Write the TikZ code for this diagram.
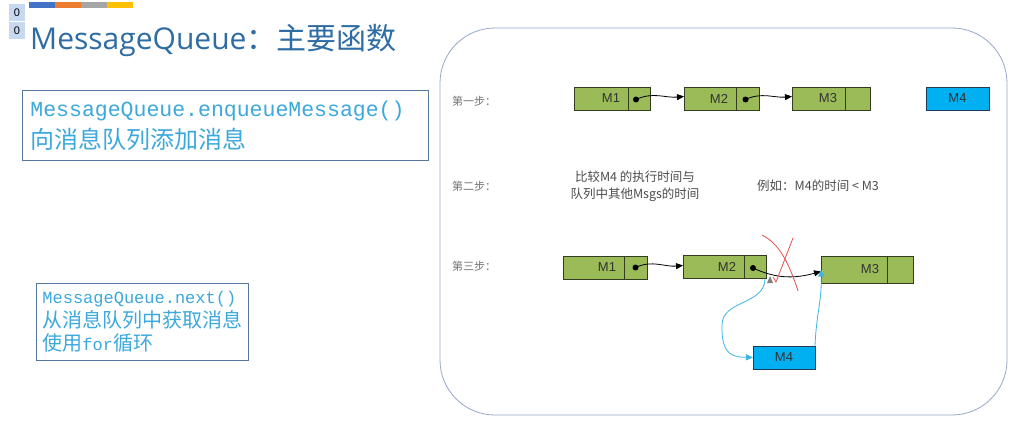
\documentclass[tikz,border=0pt]{standalone}
\usepackage{fontspec}
\setmainfont{Liberation Sans}
\setmonofont{Liberation Mono}
\newfontfamily\cjk{Noto Sans CJK SC}
\newfontfamily\titlelatin{Open Sans}
\usepackage{tikz}
\usetikzlibrary{arrows.meta,positioning}
\definecolor{titleblue}{RGB}{46,108,164}
\definecolor{textcyan}{RGB}{60,168,220}
\definecolor{boxline}{RGB}{84,120,160}
\definecolor{framegray}{RGB}{150,168,200}
\definecolor{msggreen}{RGB}{155,187,89}
\definecolor{msgline}{RGB}{50,60,30}
\definecolor{msgblue}{RGB}{0,176,240}
\definecolor{bluedark}{RGB}{30,60,90}
\definecolor{linkblue}{RGB}{60,180,230}
\definecolor{crossred}{RGB}{230,80,80}
\definecolor{zeroblue}{RGB}{198,217,240}
\definecolor{barblue}{RGB}{68,114,196}
\definecolor{barorange}{RGB}{237,125,49}
\definecolor{bargray}{RGB}{165,165,165}
\definecolor{bargold}{RGB}{255,192,0}

\begin{document}
\begin{tikzpicture}[
  x=1pt, y=-1pt,
  msgbox/.style={draw=msgline, fill=msggreen, line width=0.9pt, outer sep=0pt,
    minimum height=23pt, inner sep=0pt, font=\fontsize{13}{14}\selectfont, text=black!80},
  msg/.style={msgbox, inner xsep=8pt, text width=#1, align=right},
  ptr/.style={msgbox, minimum width=#1},
  newmsg/.style={msgbox, fill=msgblue, draw=bluedark, minimum width=#1},
  dot/.style={circle, fill=black, inner sep=0pt, minimum size=6pt},
  link/.style={-{Triangle[length=7pt,width=6pt]}, line width=0.8pt},
  newlink/.style={link, draw=linkblue},
  steplabel/.style={font=\cjk\fontsize{11}{12}\selectfont, text=black!55, anchor=west, inner sep=0pt},
  note/.style={font=\cjk\fontsize{12.5}{17}\selectfont, text=black!70, inner sep=0pt},
  infobox/.style={draw=boxline, line width=0.8pt, anchor=north west, align=left, text=textcyan},
  zerobox/.style={fill=zeroblue, minimum width=16pt, minimum height=17pt, inner sep=0pt,
    font=\fontsize{11}{12}\selectfont}
]
\useasboundingbox (0,0) rectangle (1009,428);
\fill[white] (0,0) rectangle (1009,428);

\node[zerobox] (zero1) at (17,12.5) {0};
\node[zerobox] (zero2) at (17,30.5) {0};
\foreach \c [count=\i from 0] in {barblue,barorange,bargray,bargold}
  \fill[\c] ({29+26*\i},2) rectangle ({55+26*\i},8);
\node[anchor=base west, inner sep=0pt, text=titleblue, font=\fontsize{30}{36}\selectfont] (title) at (30,50)
  {{\titlelatin MessageQueue}{\cjk ：主要函数}};

\node[infobox, inner xsep=8pt, text width=390pt, minimum height=70pt, font=\fontsize{22}{32}\selectfont] (enqueue) at (22,90)
  {{\ttfamily\fontsize{21.5}{32}\selectfont MessageQueue.enqueueMessage()}\\
   {\cjk\fontsize{24}{32}\selectfont 向消息队列添加消息}};
\node[infobox, inner xsep=6pt, text width=200pt, minimum height=77pt, font=\fontsize{17}{23.5}\selectfont] (next) at (36,283)
  {{\ttfamily MessageQueue.next()}\\
   {\cjk\fontsize{20}{23.5}\selectfont 从消息队列中获取消息}\\
   {\cjk\fontsize{20}{23.5}\selectfont 使用}{\ttfamily for}{\cjk\fontsize{20}{23.5}\selectfont 循环}};

\draw[framegray, line width=0.8pt, rounded corners=55pt] (440,28) rectangle (1007,415);

\node[steplabel] (step1) at (452,101) {第一步：};
\node[steplabel] (step2) at (452,186) {第二步：};
\node[steplabel] (step3) at (452,266) {第三步：};

\node[msg=38pt] (a1) at (601,98.5) {M1};
\node[ptr=22pt, right=0pt of a1] (a1p) {};
\node[msg=36pt] (a2) at (710,98.5) {M2};
\node[ptr=23pt, right=0pt of a2] (a2p) {};
\node[msg=37pt] (a3) at (818.5,98.5) {M3};
\node[ptr=25pt, right=0pt of a3] (a3p) {};
\node[newmsg=63pt] (a4) at (957.5,98.5) {M4};
\node[dot] (a1d) at ([xshift=-3pt,yshift=-1pt]a1p.center) {};
\node[dot] (a2d) at ([xshift=-2pt,yshift=-1pt]a2p.center) {};
\draw[link] (a1d.center) to[out=25,in=185] ([yshift=2pt]a2.west);
\draw[link] (a2d.center) to[out=25,in=185] ([yshift=2pt]a3.west);

\node[note, align=center] (compare) at (635,186) {比较M4 的执行时间与\\队列中其他Msgs的时间};
\node[note, anchor=west] (example) at (757,186) {例如：M4的时间 < M3};

\node[msg=45pt] (c1) at (593.5,267.5) {M1};
\node[ptr=23pt, right=0pt of c1] (c1p) {};
\node[msg=45pt] (c2) at (713.5,267) {M2};
\node[ptr=22pt, right=0pt of c2] (c2p) {};
\node[msg=50pt, minimum height=27pt] (c3) at (854,269.5) {M3};
\node[ptr=26pt, minimum height=27pt, right=0pt of c3] (c3p) {};
\node[newmsg=62pt] (c4) at (784,357.5) {M4};
\node[dot] (c1d) at (c1p.center) {};
\node[dot] (c2d) at ([xshift=-2pt,yshift=-1pt]c2p.center) {};
\draw[link] (c1d.center) to[out=25,in=185] ([yshift=2pt]c1p.east -| c2.west);
\draw[link] (c2d.center) to[out=-25,in=195] ([yshift=-2pt]c3.west);

\draw[crossred, line width=0.8pt] (762,235) .. controls (778,243) and (788,260) .. (798,291);
\draw[crossred, line width=0.8pt] (793,238) -- (776,282) -- (773,277);
\fill[gray] (767,283) -- (770,276) -- (773,283) -- cycle;

\draw[newlink] ([xshift=-1pt]c2p.south east) .. controls (765,305) and (722,300) .. (722,325)
  .. controls (721,357) and (735,357) .. (c4.west);
\draw[newlink] (c4.north east) to[out=88,in=-88] (c3.west);
\end{tikzpicture}
\end{document}
